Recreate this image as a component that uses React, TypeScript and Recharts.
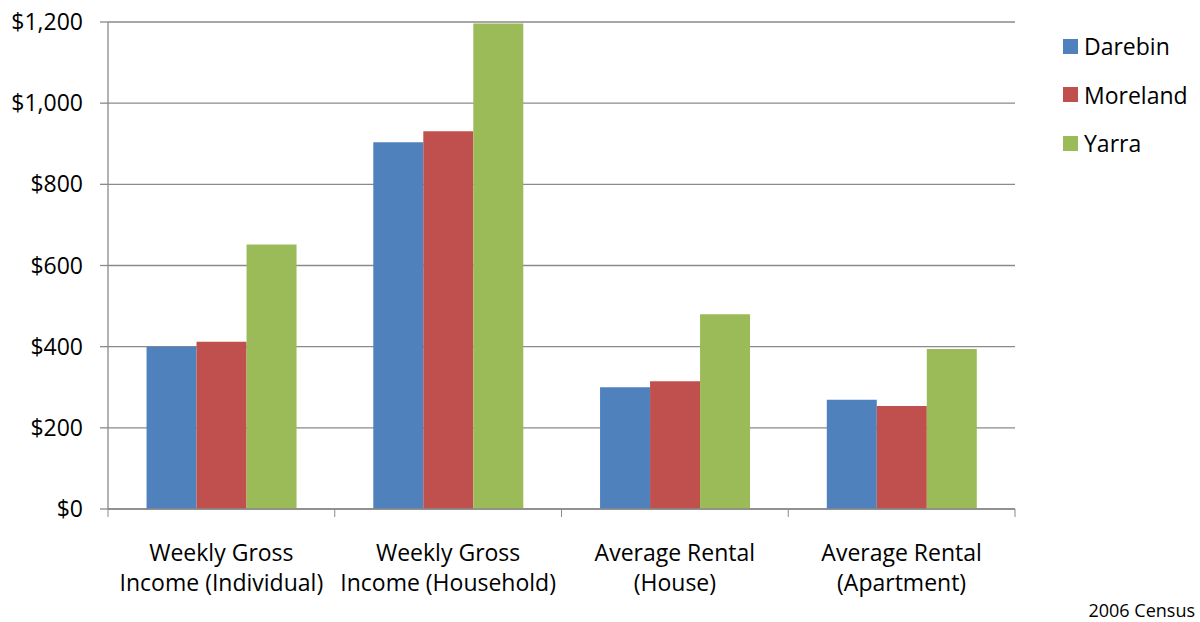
import * as React from "react";
import {
  BarChart,
  Bar,
  XAxis,
  YAxis,
  CartesianGrid,
} from "recharts";

// 2006 census figures, weekly dollars
const categories = [
  "Weekly Gross\nIncome (Individual)",
  "Weekly Gross\nIncome (Household)",
  "Average Rental\n(House)",
  "Average Rental\n(Apartment)",
];
const darebin = [400, 904, 300, 269];
const moreland = [412, 931, 315, 254];
const yarra = [652, 1196, 480, 394];
const yTicks = [0, 200, 400, 600, 800, 1000, 1200];

const SERIES = [
  { key: "darebin", name: "Darebin", color: "#4F81BD" },
  { key: "moreland", name: "Moreland", color: "#C0504D" },
  { key: "yarra", name: "Yarra", color: "#9BBB59" },
];

const FONT = "'Open Sans', sans-serif";
const GRID = "#8a8a8a";

const CHART_W = 1200;
const CHART_H = 622;
const MARGIN = { top: 22, right: 185, left: 0, bottom: 0 };
const Y_AXIS_W = 108;
const X_AXIS_H = 113;

const data = categories.map((name, i) => ({
  name,
  darebin: darebin[i],
  moreland: moreland[i],
  yarra: yarra[i],
}));

function CategoryTick(props: any) {
  const { x, y, payload, index } = props;
  const plotW = CHART_W - MARGIN.right - Y_AXIS_W;
  const half =
    payload && payload.offset ? payload.offset : plotW / categories.length / 2;
  const lines = String(payload.value).split("\n");
  return (
    <g>
      <line x1={x - half} x2={x - half} y1={y} y2={y + 8} stroke={GRID} />
      {index === categories.length - 1 && (
        <line x1={x + half} x2={x + half} y1={y} y2={y + 8} stroke={GRID} />
      )}
      {lines.map((ln, i) => (
        <text
          key={i}
          x={x}
          y={y + 44 + i * 30}
          dy="0.35em"
          textAnchor="middle"
          fill="#000"
          fontSize={23}
          fontFamily={FONT}
        >
          {ln}
        </text>
      ))}
    </g>
  );
}

function LegendBox() {
  return (
    <div
      style={{
        position: "absolute",
        left: 1063,
        top: 34,
        fontFamily: FONT,
        fontSize: 23,
        color: "#000",
      }}
    >
      {SERIES.map((s) => (
        <div
          key={s.key}
          style={{
            display: "flex",
            alignItems: "center",
            height: 24,
            marginBottom: 24.5,
          }}
        >
          <span
            style={{
              display: "inline-block",
              width: 15,
              height: 15,
              background: s.color,
              marginRight: 6,
            }}
          />
          <span>{s.name}</span>
        </div>
      ))}
    </div>
  );
}

export default function App() {
  return (
    <div
      style={{
        position: "absolute",
        left: 0,
        top: 0,
        width: CHART_W,
        height: CHART_H,
        background: "#fff",
      }}
    >
      <BarChart
        width={CHART_W}
        height={CHART_H}
        data={data}
        margin={MARGIN}
        barCategoryGap="17%"
        barGap={0}
      >
        <CartesianGrid vertical={false} stroke={GRID} strokeWidth={1.3} />
        <XAxis
          dataKey="name"
          height={X_AXIS_H}
          axisLine={{ stroke: GRID, strokeWidth: 1.3 }}
          tickLine={false}
          tickSize={0}
          tickMargin={0}
          interval={0}
          tick={<CategoryTick />}
        />
        <YAxis
          width={Y_AXIS_W}
          domain={[0, 1200]}
          ticks={yTicks}
          interval={0}
          axisLine={{ stroke: GRID, strokeWidth: 1.3 }}
          tickLine={{ stroke: GRID, strokeWidth: 1.3 }}
          tickSize={8}
          tickMargin={17}
          tickFormatter={(v: number) => `$${v.toLocaleString("en-US")}`}
          tick={{ fill: "#000", fontSize: 23, fontFamily: FONT }}
        />
        {SERIES.map((s) => (
          <Bar
            key={s.key}
            dataKey={s.key}
            name={s.name}
            fill={s.color}
            isAnimationActive={false}
          />
        ))}
      </BarChart>
      <LegendBox />
      <div
        style={{
          position: "absolute",
          right: 5,
          top: 598,
          fontFamily: FONT,
          fontSize: 18,
          color: "#000",
        }}
      >
        2006 Census
      </div>
    </div>
  );
}
